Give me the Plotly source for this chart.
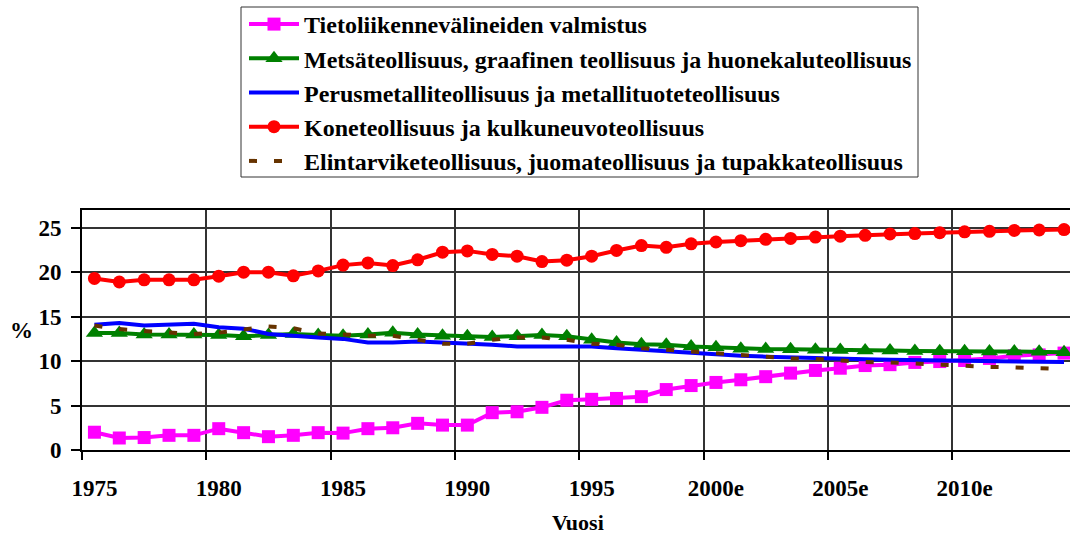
import plotly.graph_objects as go

years = [1975, 1976, 1977, 1978, 1979, 1980, 1981, 1982, 1983, 1984,
         1985, 1986, 1987, 1988, 1989, 1990, 1991, 1992, 1993, 1994,
         1995, 1996, 1997, 1998, 1999, 2000, 2001, 2002, 2003, 2004,
         2005, 2006, 2007, 2008, 2009, 2010, 2011, 2012, 2013, 2014]

tick_years = [1975, 1980, 1985, 1990, 1995, 2000, 2005, 2010]
tick_labels = ["1975", "1980", "1985", "1990", "1995", "2000e", "2005e", "2010e"]

tieto = [2.0, 1.35, 1.4, 1.65, 1.65, 2.4, 1.95, 1.5, 1.65, 1.95,
         1.9, 2.4, 2.5, 3.0, 2.8, 2.8, 4.2, 4.3, 4.8, 5.6,
         5.7, 5.8, 6.0, 6.8, 7.25, 7.6, 7.9, 8.25, 8.65, 8.95,
         9.2, 9.5, 9.6, 9.85, 9.95, 10.07, 10.3, 10.6, 10.7, 10.9]

metsa = [13.15, 13.15, 13.0, 13.0, 13.0, 12.95, 12.8, 12.95, 13.05, 12.95,
         12.85, 13.0, 13.2, 13.0, 12.85, 12.8, 12.7, 12.8, 12.95, 12.8,
         12.4, 12.1, 11.9, 11.85, 11.65, 11.55, 11.4, 11.35, 11.33, 11.27,
         11.25, 11.2, 11.18, 11.15, 11.1, 11.1, 11.08, 11.07, 11.05, 11.0]

perus = [14.1, 14.3, 14.0, 14.1, 14.2, 13.8, 13.65, 13.05, 12.8, 12.65,
         12.5, 12.1, 12.1, 12.2, 12.1, 12.0, 11.85, 11.65, 11.65, 11.7,
         11.65, 11.45, 11.27, 11.1, 10.9, 10.7, 10.6, 10.5, 10.4, 10.3,
         10.25, 10.2, 10.15, 10.1, 10.07, 10.03, 10.0, 10.0, 9.95, 9.9]

kone = [19.3, 18.9, 19.15, 19.15, 19.15, 19.55, 20.0, 20.0, 19.6, 20.15,
        20.8, 21.05, 20.75, 21.4, 22.25, 22.4, 22.0, 21.8, 21.2, 21.35,
        21.8, 22.45, 23.0, 22.8, 23.2, 23.4, 23.55, 23.7, 23.8, 23.95,
        24.05, 24.15, 24.3, 24.35, 24.45, 24.55, 24.6, 24.7, 24.75, 24.8]

elintarvike = [14.0, 13.6, 13.4, 13.2, 13.05, 13.2, 13.6, 13.9, 13.7, 13.1,
               13.0, 12.85, 12.85, 12.4, 11.95, 11.95, 12.4, 12.65, 12.65, 12.4,
               11.95, 11.85, 11.45, 11.27, 11.1, 10.9, 10.7, 10.5, 10.3, 10.25,
               10.07, 9.9, 9.85, 9.7, 9.6, 9.4, 9.35, 9.3, 9.25, 9.1]

names = [
    "Tietoliikennevälineiden valmistus",
    "Metsäteollisuus, graafinen teollisuus ja huonekaluteollisuus",
    "Perusmetalliteollisuus ja metallituoteteollisuus",
    "Koneteollisuus ja kulkuneuvoteollisuus",
    "Elintarviketeollisuus, juomateollisuus ja tupakkateollisuus",
]

FONT = "Liberation Serif, Times New Roman, serif"

# plot area in pixels: x 82..1070, y 210..450
PL, PT, PB, PW, PH = 82, 210, 450, 988, 240


def px(x):
    return (x - PL) / PW


def py(y):
    return (PB - y) / PH


fig = go.Figure()
fig.add_trace(go.Scatter(x=years, y=tieto, name=names[0], mode="lines+markers",
                         line=dict(color="#FF00FF", width=4),
                         marker=dict(symbol="square", size=13, color="#FF00FF")))
fig.add_trace(go.Scatter(x=years, y=metsa, name=names[1], mode="lines+markers",
                         line=dict(color="#008000", width=4),
                         marker=dict(symbol="triangle-up", size=15, color="#008000")))
fig.add_trace(go.Scatter(x=years, y=perus, name=names[2], mode="lines",
                         line=dict(color="#0000FF", width=4)))
fig.add_trace(go.Scatter(x=years, y=kone, name=names[3], mode="lines+markers",
                         line=dict(color="#FF0000", width=4),
                         marker=dict(symbol="circle", size=13, color="#FF0000")))
fig.add_trace(go.Scatter(x=years, y=elintarvike, name=names[4], mode="lines",
                         line=dict(color="#663300", width=4, dash="8px,17px")))

fig.update_layout(
    template="none",
    width=1070, height=535,
    margin=dict(l=PL, r=0, t=PT, b=535 - PB, autoexpand=False),
    paper_bgcolor="white", plot_bgcolor="white",
    font=dict(family=FONT, size=23, color="black", weight="bold"),
    showlegend=True,
    legend=dict(
        x=px(244), y=py(2), xanchor="left", yanchor="top",
        bgcolor="rgba(0,0,0,0)", borderwidth=0,
        font=dict(family=FONT, size=24, color="black", weight="bold"),
        tracegroupgap=0, itemwidth=50,
    ),
    shapes=[
        dict(type="rect", xref="paper", yref="paper",
             x0=px(241), x1=px(918), y0=py(177), y1=py(7),
             line=dict(color="#333333", width=1), fillcolor="rgba(0,0,0,0)",
             layer="below"),
    ],
    xaxis=dict(
        automargin=False,
        range=[1974.5, 2014.24],
        tickmode="array", tickvals=tick_years, ticktext=tick_labels,
        ticks="outside", ticklen=8, tickcolor="rgba(0,0,0,0)",
        ticklabelstandoff=8,
        showgrid=False, zeroline=False,
        showline=True, linecolor="black", linewidth=2, mirror=True,
        minor=dict(tick0=1974.5, dtick=5, showgrid=True, gridcolor="#333333",
                   gridwidth=1.5, ticks="outside", ticklen=8, tickcolor="black",
                   tickwidth=1.5),
        tickfont=dict(family=FONT, size=23, color="black", weight="bold"),
    ),
    yaxis=dict(
        automargin=False,
        range=[0, 27], tickmode="array", tickvals=[0, 5, 10, 15, 20, 25],
        ticks="outside", ticklen=9, tickcolor="black", tickwidth=1.5,
        showgrid=True, gridcolor="#333333", gridwidth=1.5,
        zeroline=False, showline=True, linecolor="black", linewidth=2,
        ticklabelstandoff=5,
        tickfont=dict(family=FONT, size=23, color="black", weight="bold"),
    ),
    annotations=[
        dict(text="%", xref="paper", yref="paper", x=px(21), y=py(330),
             xanchor="center", yanchor="middle", showarrow=False,
             font=dict(family=FONT, size=23, color="black", weight="bold")),
        dict(text="Vuosi", xref="paper", yref="paper", x=px(578), y=py(522),
             xanchor="center", yanchor="middle", showarrow=False,
             font=dict(family=FONT, size=22, color="black", weight="bold")),
    ],
)

fig.write_html("out.html", config={"displayModeBar": False},
               post_script="document.body.style.margin='0px';document.body.style.overflow='hidden';")
